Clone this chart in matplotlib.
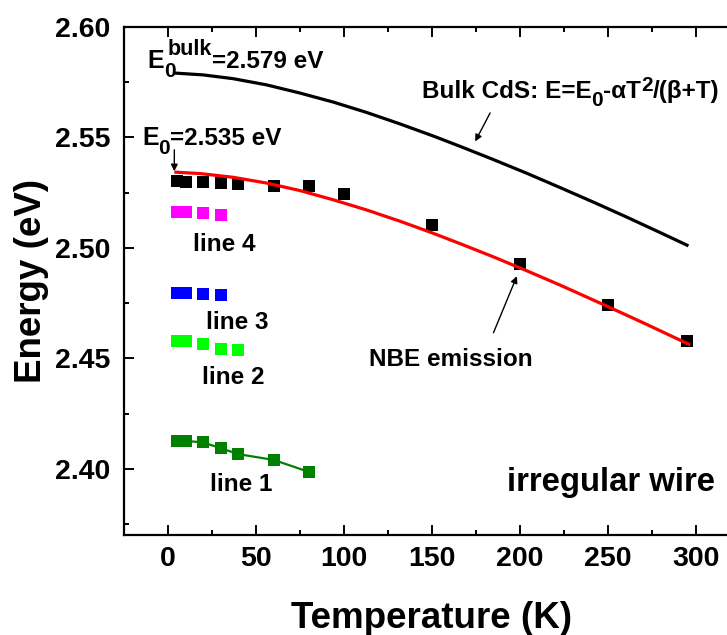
import matplotlib
matplotlib.use("Agg")
import matplotlib.pyplot as plt
from matplotlib.ticker import MultipleLocator, FormatStrFormatter
from matplotlib.transforms import offset_copy

plt.rcParams['font.family'] = ['Liberation Sans', 'DejaVu Sans']
plt.rcParams['font.weight'] = 'bold'

# ---- data ----
nbe_T = [5, 10, 20, 30, 40, 60, 80, 100, 150, 200, 250, 295]
nbe_E = [2.5301, 2.5297, 2.5297, 2.5294, 2.5290, 2.5281, 2.5278, 2.5244,
         2.5101, 2.4925, 2.4740, 2.4577]

line4_T = [5, 10, 20, 30]
line4_E = [2.5161, 2.5162, 2.5158, 2.5149]

line3_T = [5, 10, 20, 30]
line3_E = [2.4797, 2.4797, 2.4792, 2.4786]

line2_T = [5, 10, 20, 30, 40]
line2_E = [2.4579, 2.4579, 2.4564, 2.4544, 2.4540]

line1_T = [5, 10, 20, 30, 40, 60, 80]
line1_E = [2.4127, 2.4127, 2.4120, 2.4094, 2.4067, 2.4041, 2.3987]

# fitted NBE curve
fit_T = [4.5, 18, 37, 56, 75, 94, 113, 132, 150, 166, 185, 204, 223, 249, 272, 296]
fit_E = [2.5342, 2.5336, 2.5319, 2.5293, 2.5259, 2.5217, 2.5171, 2.5120,
         2.5068, 2.5019, 2.4959, 2.4896, 2.4831, 2.4738, 2.4654, 2.4564]

# bulk CdS curve
bulk_T = [4.5, 20, 37, 56, 75, 94, 113, 132, 151, 166, 185, 204, 223, 242, 261, 280, 295]
bulk_E = [2.5790, 2.5782, 2.5765, 2.5737, 2.5700, 2.5659, 2.5612, 2.5560,
          2.5505, 2.5459, 2.5399, 2.5337, 2.5272, 2.5206, 2.5138, 2.5068, 2.5012]

xticks = [0, 50, 100, 150, 200, 250, 300]
yticks = [2.40, 2.45, 2.50, 2.55, 2.60]

fig = plt.figure(figsize=(7.27, 6.35), dpi=100)
ax = fig.add_axes([124/727, 1-535.3/635, 607/727, (535.3-26.7)/635])

ax.plot(bulk_T, bulk_E, color='black', lw=2.3, zorder=3, solid_joinstyle='round')
ax.plot(fit_T, fit_E, color='red', lw=2.3, zorder=5, solid_joinstyle='round')

ms = 8.6
ax.plot(nbe_T, nbe_E, 's', color='black', ms=ms, mew=0, zorder=4)
ax.plot(line4_T, line4_E, 's', color='#ff00ff', ms=ms, mew=0, zorder=4)
ax.plot(line3_T, line3_E, 's', color='#0000ff', ms=ms, mew=0, zorder=4)
ax.plot(line2_T, line2_E, 's', color='#00ff00', ms=ms, mew=0, zorder=4)
ax.plot(line1_T, line1_E, 's-', color='#008000', ms=ms, mew=0, lw=1.6, zorder=4)

ax.set_xlim(-25, 320)
ax.set_ylim(2.37, 2.60)
ax.set_xticks(xticks)
ax.set_yticks(yticks)
ax.xaxis.set_minor_locator(MultipleLocator(25))
ax.yaxis.set_minor_locator(MultipleLocator(0.025))
ax.yaxis.set_major_formatter(FormatStrFormatter('%.2f'))
ax.tick_params(which='both', direction='in', top=True, right=False, width=1.4)
ax.tick_params(which='major', length=7.2)
ax.tick_params(which='minor', length=3.8)
ax.tick_params(axis='y', which='major', labelsize=20.5, pad=10)
ax.tick_params(axis='x', which='major', labelsize=20.5, pad=8)
for lab in ax.get_xticklabels() + ax.get_yticklabels():
    lab.set_fontweight('bold')
ax.spines['right'].set_visible(False)
for s in ['left', 'bottom', 'top']:
    ax.spines[s].set_linewidth(1.6)

renderer = fig.canvas.get_renderer()


def rich(x, y, pieces):
    """pieces: list of (text, fontsize, dy_pt, advance) placed sequentially from data (x, y)."""
    dx = 0.0
    for s, size, dy, adv in pieces:
        tr = offset_copy(ax.transData, fig=fig, x=dx, y=dy, units='points')
        t = ax.text(x, y, s, fontsize=size, fontweight='bold', ha='left',
                    va='baseline', transform=tr)
        w = t.get_window_extent(renderer).width * 72.0 / fig.dpi
        if adv is None:
            dx += w
        else:
            dx += adv


fs = 17.5
sub = 15
# E0^bulk = 2.579 eV
rich(-11.9, 2.5814, [('E', 18, 0, None), ('0', sub, -6.5, 3.0),
                     ('bulk', 15.5, 9.4, None), ('=2.579 eV', fs, 0, None)])
# E0 = 2.535 eV
rich(-14.8, 2.5463, [('E', 18, 0, None), ('0', sub, -6.0, None),
                     ('=2.535 eV', fs, 0, None)])
ax.annotate('', xy=(3.6, 2.5346), xytext=(3.6, 2.5443),
            arrowprops=dict(arrowstyle='-|>', color='black', lw=1.0,
                            mutation_scale=10, shrinkA=0, shrinkB=0))
# Bulk CdS formula
rich(144.3, 2.5677, [('Bulk CdS: E=E', fs, 0, None), ('0', sub, -6.0, None),
                     ('-αT', fs, 0, None), ('2', sub, 4.8, None),
                     ('/(β+T)', fs, 0, None)])
ax.annotate('', xy=(174.6, 2.5481), xytext=(183.1, 2.5610),
            arrowprops=dict(arrowstyle='-|>', color='black', lw=1.0,
                            mutation_scale=10, shrinkA=0, shrinkB=0))
ax.text(114, 2.4466, 'NBE emission', fontsize=fs, fontweight='bold',
        ha='left', va='baseline')
ax.annotate('', xy=(198.3, 2.4872), xytext=(185, 2.4616),
            arrowprops=dict(arrowstyle='-|>', color='black', lw=1.0,
                            mutation_scale=10, shrinkA=0, shrinkB=0))
ax.text(14.5, 2.4985, 'line 4', fontsize=fs, fontweight='bold', ha='left', va='baseline')
ax.text(21.8, 2.4634, 'line 3', fontsize=fs, fontweight='bold', ha='left', va='baseline')
ax.text(19.3, 2.4383, 'line 2', fontsize=fs, fontweight='bold', ha='left', va='baseline')
ax.text(24, 2.3902, 'line 1', fontsize=fs, fontweight='bold', ha='left', va='baseline')
ax.text(192.6, 2.3902, 'irregular wire', fontsize=23.7, fontweight='bold',
        ha='left', va='baseline')

fig.text(431.5/727, 1-628/635, 'Temperature (K)', fontsize=26.5, fontweight='bold',
         ha='center', va='baseline')
fig.text(31.5/727, 1-281/635, 'Energy (eV)', fontsize=26.5, fontweight='bold',
         ha='center', va='center', rotation=90)

fig.savefig('out.png', dpi=100)
